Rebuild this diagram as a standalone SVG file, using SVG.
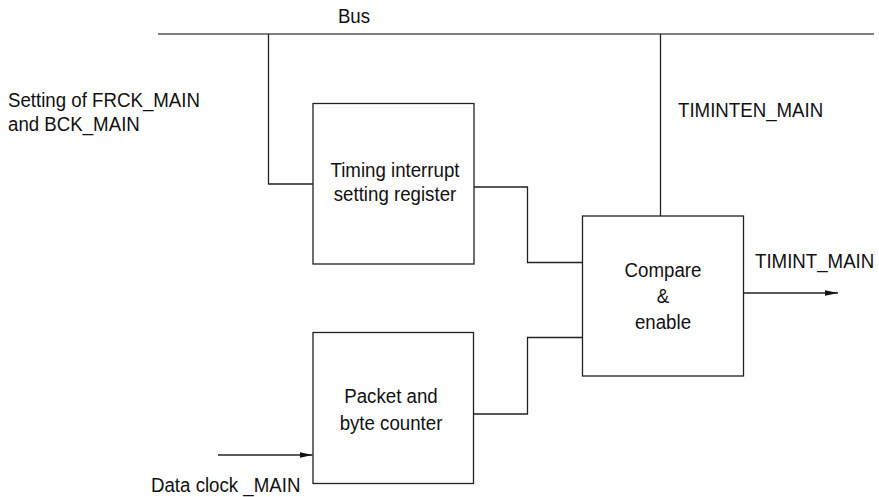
<svg xmlns="http://www.w3.org/2000/svg" width="879" height="497" viewBox="0 0 879 497">
<style>
text{font-family:"Liberation Sans",Arial,sans-serif;font-size:21px;fill:#111}
.c{text-anchor:middle}
.box{fill:#fff;stroke:#222;stroke-width:1.3}
.w{fill:none;stroke:#222;stroke-width:1.3}
.bus{fill:none;stroke:#555;stroke-width:1.6}
</style>
<defs>
<marker id="ah" markerWidth="14" markerHeight="8" refX="13" refY="4" orient="auto" markerUnits="userSpaceOnUse">
<path d="M0,1.2 L13,4 L0,6.8 Z" fill="#111"/>
</marker>
</defs>
<g id="connectors">
<line class="bus" x1="158" y1="34" x2="874" y2="34"/>
<polyline class="w" points="268.5,34 268.5,184 313,184"/>
<polyline class="w" points="660.5,34 660.5,216"/>
<polyline class="w" points="474,187 527.5,187 527.5,262.5 582.5,262.5"/>
<polyline class="w" points="474,414 527.5,414 527.5,337.5 582.5,337.5"/>
<line class="w" x1="744" y1="293" x2="838" y2="293" marker-end="url(#ah)"/>
<line class="w" x1="218" y1="455" x2="312.5" y2="455" marker-end="url(#ah)"/>
</g>
<g id="bus-label"><text transform="translate(354,23) scale(0.89,1)" class="c">Bus</text></g>
<g id="setting-label">
<text transform="translate(8,107) scale(0.89,1)">Setting of FRCK_MAIN</text>
<text transform="translate(8,131) scale(0.89,1)">and BCK_MAIN</text>
</g>
<g id="timinten-label"><text transform="translate(678,117) scale(0.89,1)">TIMINTEN_MAIN</text></g>
<g id="timint-label"><text transform="translate(755,268) scale(0.89,1)">TIMINT_MAIN</text></g>
<g id="dataclock-label"><text transform="translate(151,492) scale(0.89,1)">Data clock _MAIN</text></g>
<g id="timing-register">
<rect class="box" x="313" y="103.5" width="161" height="160.5"/>
<text transform="translate(395,177) scale(0.89,1)" class="c">Timing interrupt</text>
<text transform="translate(395,201) scale(0.89,1)" class="c">setting register</text>
</g>
<g id="compare-enable">
<rect class="box" x="582.5" y="216" width="161" height="160"/>
<text transform="translate(663,277) scale(0.89,1)" class="c">Compare</text>
<text transform="translate(663,303) scale(0.89,1)" class="c">&amp;</text>
<text transform="translate(663,329) scale(0.89,1)" class="c">enable</text>
</g>
<g id="packet-counter">
<rect class="box" x="313" y="332.5" width="160.5" height="151"/>
<text transform="translate(391,403) scale(0.89,1)" class="c">Packet and</text>
<text transform="translate(391,430) scale(0.89,1)" class="c">byte counter</text>
</g>
</svg>
